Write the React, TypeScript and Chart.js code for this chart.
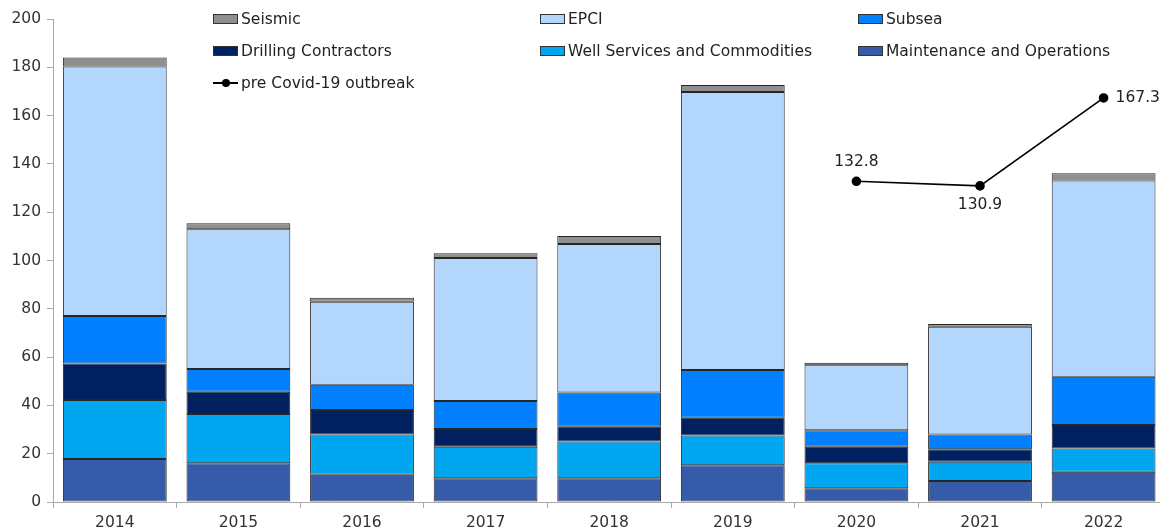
import React, { useEffect, useRef } from "react";
import { Chart, registerables } from "chart.js";

Chart.register(...registerables);

const years = ["2014", "2015", "2016", "2017", "2018", "2019", "2020", "2021", "2022"];
const maintenance = [17.8, 16.0, 11.3, 9.8, 9.8, 15.2, 5.7, 8.7, 12.5];
const wellServices = [24.4, 20.4, 16.6, 13.1, 15.3, 12.3, 10.3, 8.0, 9.7];
const drilling = [15.2, 9.3, 10.2, 7.3, 6.1, 7.4, 6.9, 5.1, 9.7];
const subsea = [19.6, 9.4, 10.5, 11.6, 14.1, 19.8, 6.8, 6.1, 20.0];
const epci = [103.3, 57.8, 34.3, 59.2, 61.5, 115.1, 26.9, 44.7, 81.2];
const seismic = [3.8, 2.5, 1.7, 2.0, 3.3, 2.9, 1.1, 1.1, 3.0];
const preCovid = [null, null, null, null, null, null, 132.8, 130.9, 167.3];
const yTicks = [0, 20, 40, 60, 80, 100, 120, 140, 160, 180, 200];

const COLORS = {
  seismic: "#8f8f8f",
  epci: "#b2d6fc",
  subsea: "#0080ff",
  drilling: "#002060",
  well: "#00a7f0",
  maint: "#365ba8",
};

const FONT = "'DejaVu Sans', Verdana, sans-serif";
const FS = 15.5;

const legendItems = [
  { label: "Seismic", color: COLORS.seismic, left: 213, top: 19 },
  { label: "EPCI", color: COLORS.epci, left: 540, top: 19 },
  { label: "Subsea", color: COLORS.subsea, left: 858, top: 19 },
  { label: "Drilling Contractors", color: COLORS.drilling, left: 213, top: 51 },
  { label: "Well Services and Commodities", color: COLORS.well, left: 540, top: 51 },
  { label: "Maintenance and Operations", color: COLORS.maint, left: 858, top: 51 },
];

const labelPlugin = {
  id: "lineLabels",
  afterDatasetsDraw(chart: any) {
    const idx = chart.data.datasets.findIndex((d: any) => d.type === "line");
    if (idx < 0) return;
    const meta = chart.getDatasetMeta(idx);
    const ctx = chart.ctx;
    ctx.save();
    ctx.font = `${FS}px ${FONT}`;
    ctx.fillStyle = "#222";
    ctx.textBaseline = "middle";
    const offsets = [
      { i: 6, dx: 0, dy: -19, align: "center" },
      { i: 7, dx: 0, dy: 19, align: "center" },
      { i: 8, dx: 12, dy: 0, align: "left" },
    ];
    offsets.forEach((o) => {
      const el = meta.data[o.i];
      const v = preCovid[o.i];
      if (!el || v == null) return;
      ctx.textAlign = o.align;
      ctx.fillText(v.toFixed(1), el.x + o.dx, el.y + o.dy);
    });
    ctx.restore();
  },
};

export default function App() {
  const canvasRef = useRef<HTMLCanvasElement | null>(null);

  useEffect(() => {
    if (!canvasRef.current) return;
    const barDs = (label: string, data: number[], color: string) => ({
      type: "bar" as const,
      label,
      data,
      backgroundColor: color,
      borderColor: "#262626",
      borderWidth: 1,
      borderSkipped: false,
      stack: "bars",
      order: 1,
      barPercentage: 0.84,
      categoryPercentage: 1,
    });
    const chart = new Chart(canvasRef.current, {
      type: "bar",
      data: {
        labels: years,
        datasets: [
          {
            type: "line" as const,
            label: "pre Covid-19 outbreak",
            data: preCovid as any,
            borderColor: "#000",
            backgroundColor: "#000",
            borderWidth: 1.6,
            pointRadius: 4,
            pointBackgroundColor: "#000",
            pointBorderColor: "#000",
            stack: "line",
            order: 0,
            spanGaps: false,
          } as any,
          barDs("Maintenance and Operations", maintenance, COLORS.maint),
          barDs("Well Services and Commodities", wellServices, COLORS.well),
          barDs("Drilling Contractors", drilling, COLORS.drilling),
          barDs("Subsea", subsea, COLORS.subsea),
          barDs("EPCI", epci, COLORS.epci),
          barDs("Seismic", seismic, COLORS.seismic),
        ],
      },
      options: {
        animation: false,
        responsive: false,
        maintainAspectRatio: false,
        layout: { padding: { top: 19, right: 0, left: 0, bottom: 0 } },
        plugins: {
          legend: { display: false },
          tooltip: { enabled: false },
          title: { display: false },
        },
        scales: {
          x: {
            stacked: true,
            grid: {
              offset: true,
              drawOnChartArea: false,
              drawTicks: true,
              tickLength: 6,
              color: "#aaaaaa",
            },
            border: { color: "#aaaaaa", width: 1 },
            ticks: {
              color: "#333",
              font: { family: FONT, size: FS },
              padding: 6,
              maxRotation: 0,
            },
            afterFit(scale: any) {
              scale.height = 29;
            },
          },
          y: {
            stacked: true,
            min: 0,
            max: 200,
            afterBuildTicks(scale: any) {
              scale.ticks = yTicks.map((v) => ({ value: v }));
            },
            grid: {
              drawOnChartArea: false,
              drawTicks: true,
              tickLength: 6,
              color: "#aaaaaa",
            },
            border: { color: "#aaaaaa", width: 1 },
            ticks: {
              color: "#333",
              font: { family: FONT, size: FS },
              padding: 6,
            },
            afterFit(scale: any) {
              scale.width = 53;
            },
          },
        },
      },
      plugins: [labelPlugin],
    } as any);
    return () => chart.destroy();
  }, []);

  return (
    <div
      style={{
        position: "fixed",
        left: 0,
        top: 0,
        width: 1160,
        height: 531,
        overflow: "hidden",
        background: "#fff",
      }}
    >
      <canvas
        ref={canvasRef}
        width={1171}
        height={531}
        style={{ position: "absolute", left: 0, top: 0, width: 1171, height: 531 }}
      />
      {legendItems.map((it) => (
        <div
          key={it.label}
          style={{
            position: "absolute",
            left: it.left,
            top: it.top - 10,
            height: 20,
            display: "flex",
            alignItems: "center",
            fontFamily: FONT,
            fontSize: FS,
            color: "#222",
            whiteSpace: "nowrap",
          }}
        >
          <span
            style={{
              display: "inline-block",
              width: 23,
              height: 8,
              background: it.color,
              border: "1px solid #333",
              marginRight: 3,
            }}
          />
          {it.label}
        </div>
      ))}
      <div
        style={{
          position: "absolute",
          left: 213,
          top: 83 - 10,
          height: 20,
          display: "flex",
          alignItems: "center",
          fontFamily: FONT,
          fontSize: FS,
          color: "#222",
          whiteSpace: "nowrap",
        }}
      >
        <span style={{ position: "relative", display: "inline-block", width: 25, height: 20, marginRight: 3 }}>
          <span
            style={{
              position: "absolute",
              left: 0,
              top: 9,
              width: 25,
              height: 2,
              background: "#000",
            }}
          />
          <span
            style={{
              position: "absolute",
              left: 8.5,
              top: 6,
              width: 8,
              height: 8,
              borderRadius: 4,
              background: "#000",
            }}
          />
        </span>
        pre Covid-19 outbreak
      </div>
    </div>
  );
}
